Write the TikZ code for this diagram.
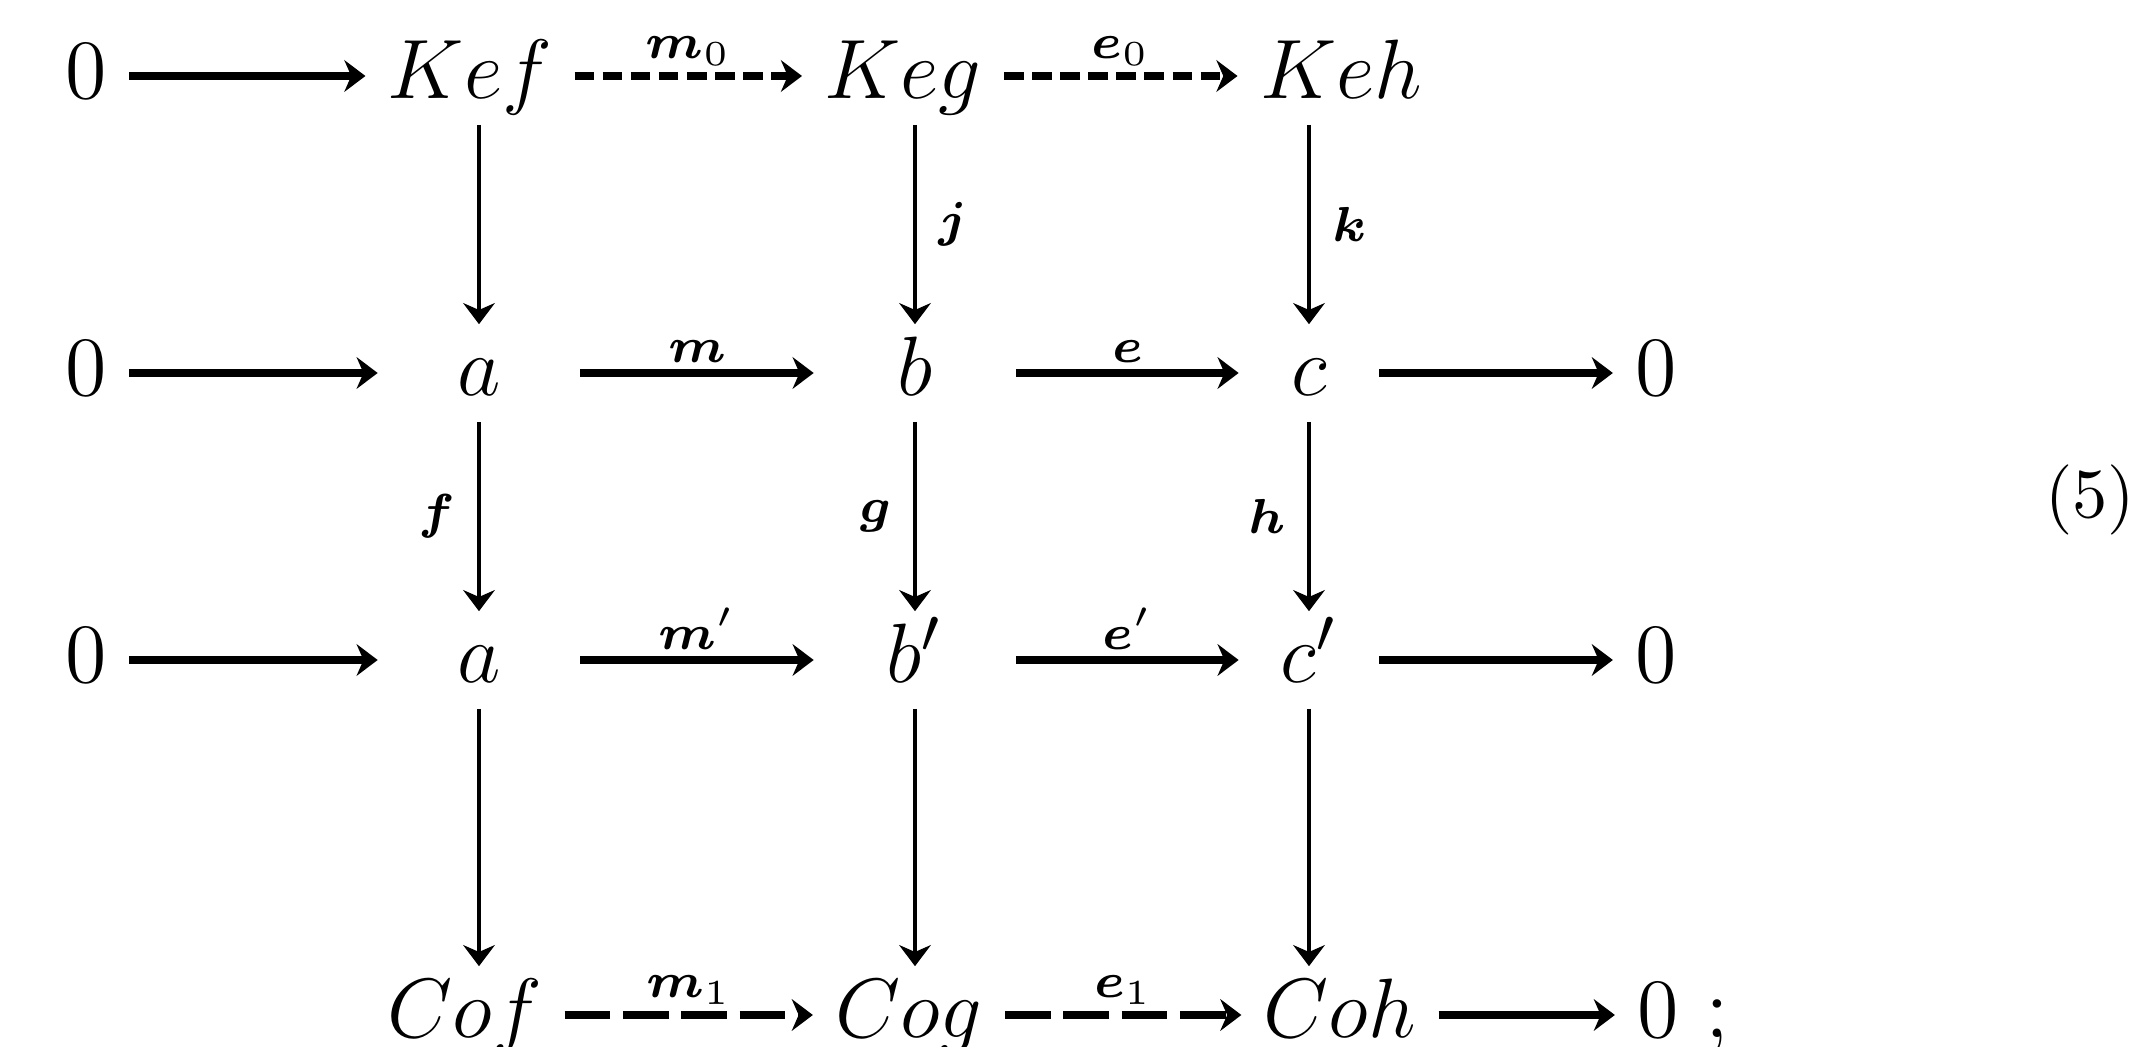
\documentclass[tikz,border=0pt]{standalone}
\usepackage{amsmath}
\usetikzlibrary{arrows.meta}
\begin{document}
\begin{tikzpicture}[x=0.005cm,y=-0.005cm,
  obj/.style={font=\fontsize{12.5}{15}\selectfont, inner xsep=3pt, inner ysep=1pt, text height=9pt, text depth=2.5pt},
  cell/.style={obj, minimum width=#1},
  hor/.style={-{Stealth[length=3pt,width=4.5pt]}, line width=1.1pt},
  ver/.style={-{Stealth[length=3pt,width=4.5pt]}, line width=0.7pt},
  dotarr/.style={hor, dash pattern=on 2.8pt off 1.2pt},
  dasharr/.style={hor, dash pattern=on 6.5pt off 1.8pt},
  lab/.style={font=\scriptsize, inner sep=1pt}]
\useasboundingbox (0,0) rectangle (2140,1047);

\node[obj] (zl1) at (86,76) {$0$};
\node[obj] (kef) at (470,76) {$Kef$};
\node[obj] (keg) at (903,76) {$Keg$};
\node[obj] (keh) at (1341,76) {$Keh$};

\node[obj] (zl2) at (86,373) {$0$};
\node[cell=1cm] (a) at (479,373) {$a$};
\node[cell=1cm] (b) at (915,373) {$b$};
\node[cell=0.69cm] (c) at (1309,373) {$c$};
\node[obj] (zr2) at (1656,373) {$0$};

\node[obj] (zl3) at (86,660) {$0$};
\node[cell=1cm] (a3) at (479,660) {$a$};
\node[cell=1cm] (b3) at (915,660) {$b'$};
\node[cell=0.69cm] (c3) at (1309,660) {$c'$};
\node[obj] (zr3) at (1656,660) {$0$};

\node[obj] (cof) at (465,1015) {$Cof$};
\node[obj] (cog) at (909,1015) {$Cog$};
\node[obj] (coh) at (1340,1015) {$Coh$};
\node[obj] (zr4) at (1658,1015) {$0$};
\node[obj] (semi) at (1717,1015) {;};

\node[obj,font=\fontsize{10}{12}\selectfont] (eqno) at (2090,495) {(5)};

\draw[hor] (zl1) -- (kef);
\draw[dotarr] (kef) -- node[lab,above] {$\boldsymbol{m}_0$} (keg);
\draw[dotarr] (keg) -- node[lab,above] {$\boldsymbol{e}_0$} (keh);

\draw[hor] (zl2) -- (a);
\draw[hor] (a) -- node[lab,above] {$\boldsymbol{m}$} (b);
\draw[hor] (b) -- node[lab,above] {$\boldsymbol{e}$} (c);
\draw[hor] (c) -- (zr2);

\draw[hor] (zl3) -- (a3);
\draw[hor] (a3) -- node[lab,above] {$\boldsymbol{m}'$} (b3);
\draw[hor] (b3) -- node[lab,above] {$\boldsymbol{e}'$} (c3);
\draw[hor] (c3) -- (zr3);

\draw[dasharr] (cof) -- node[lab,above] {$\boldsymbol{m}_1$} (cog);
\draw[dasharr] (cog) -- node[lab,above] {$\boldsymbol{e}_1$} (coh);
\draw[hor] (coh) -- (zr4);

\draw[ver] (a |- kef.south) -- (a);
\draw[ver] (b |- keg.south) -- node[lab,right=2pt] {$\boldsymbol{j}$} (b);
\draw[ver] (c |- keh.south) -- node[lab,right=2pt] {$\boldsymbol{k}$} (c);

\draw[ver] (a) -- node[lab,left=2pt] {$\boldsymbol{f}$} (a3);
\draw[ver] (b) -- node[lab,left=2pt] {$\boldsymbol{g}$} (b3);
\draw[ver] (c) -- node[lab,left=2pt] {$\boldsymbol{h}$} (c3);

\draw[ver] (a3) -- (a3 |- cof.north);
\draw[ver] (b3) -- (b3 |- cog.north);
\draw[ver] (c3) -- (c3 |- coh.north);
\end{tikzpicture}
\end{document}
